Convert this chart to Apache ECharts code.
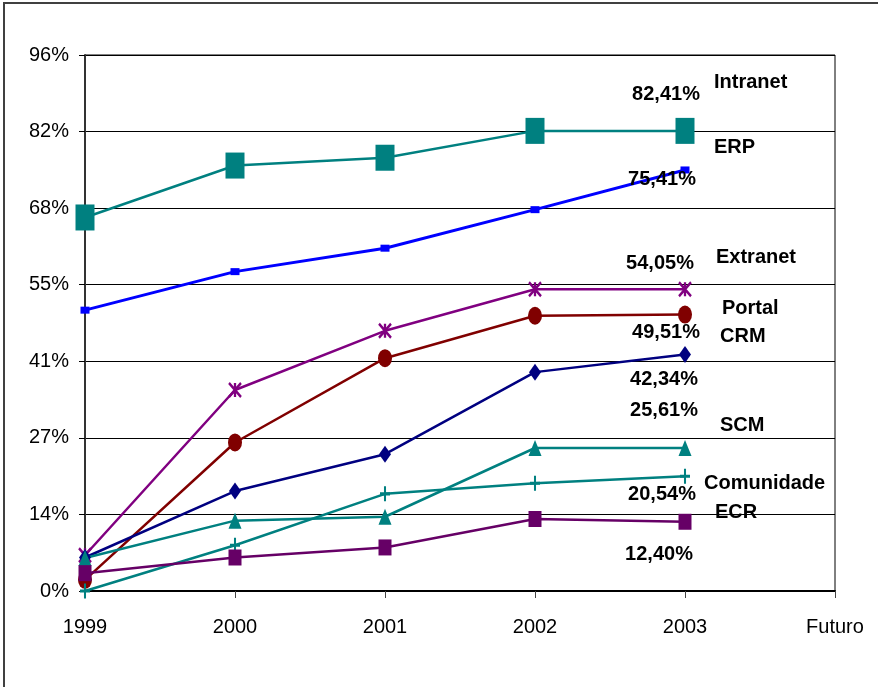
<!DOCTYPE html>
<html>
<head>
<meta charset="utf-8">
<script src="https://cdn.jsdelivr.net/npm/echarts@6/dist/echarts.min.js"></script>
<style>
  html, body { margin: 0; padding: 0; background: #fff; }
  #chart { width: 878px; height: 687px; }
</style>
</head>
<body>
<div id="chart"></div>
<script>
// Adoption by year of each technology (percent of companies)
const categories = ['1999', '2000', '2001', '2002', '2003', 'Futuro'];
const yTickLabels = ['0%', '14%', '27%', '41%', '55%', '68%', '82%', '96%'];

const intranet   = [66.9, 76.2, 77.6, 82.41, 82.41];
const erp        = [50.3, 57.2, 61.4, 68.3, 75.41];
const extranet   = [6.4, 36.0, 46.6, 54.05, 54.05];
const portal     = [2.0, 26.6, 41.7, 49.3, 49.51];
const crm        = [6.0, 17.9, 24.5, 39.2, 42.34];
const scm        = [5.9, 12.6, 13.3, 25.61, 25.61];
const comunidade = [0.0, 8.2, 17.4, 19.3, 20.54];
const ecr        = [3.2, 6.0, 7.8, 12.9, 12.40];

const seriesNames = ['Intranet', 'ERP', 'Extranet', 'Portal', 'CRM', 'SCM', 'Comunidade', 'ECR'];

const AXIS_MAX = 96;
const STEP = AXIS_MAX / 7;

const ASTERISK = 'path://M0,0L10,12M10,0L0,12M5,0L5,12';
const PLUS = 'path://M5,0L5,12M0,6L10,6';

// Per-series look: colour, marker, and where the final value label sits
const looks = [
  { data: intranet,   color: '#008080', width: 2.5, symbol: 'rect',    size: [19, 26], stroke: false, off: [-19, -36] },
  { data: erp,        color: '#0000ff', width: 3,   symbol: 'rect',    size: [9, 7],   stroke: false, off: [-23, 10] },
  { data: extranet,   color: '#800080', width: 2.5, symbol: ASTERISK,  size: [12, 14], stroke: true,  off: [-25, -26] },
  { data: portal,     color: '#800000', width: 2.5, symbol: 'circle',  size: [14, 18], stroke: false, off: [-19, 18] },
  { data: crm,        color: '#000080', width: 2.5, symbol: 'diamond', size: [12, 17], stroke: false, off: [-21, 25] },
  { data: scm,        color: '#008080', width: 2.5, symbol: 'triangle',size: [13, 16], stroke: false, off: [-21, -38] },
  { data: comunidade, color: '#008080', width: 2.5, symbol: PLUS,      size: [10, 15], stroke: true,  off: [-23, 18] },
  { data: ecr,        color: '#660066', width: 2.5, symbol: 'rect',    size: [13, 16], stroke: false, off: [-26, 33] }
];

// Name tags placed to the right of the last year
const nameSpots = [
  [714, 82], [714, 147], [716, 257], [722, 308], [720, 336], [720, 425], [704, 483], [715, 512]
];

function pct(v) {
  return v.toFixed(2).replace('.', ',') + '%';
}

const series = looks.map(function (s, i) {
  const last = s.data.length - 1;
  return {
    name: seriesNames[i],
    type: 'line',
    data: s.data.map(function (v, j) {
      if (j !== last) return v;
      return {
        value: v,
        label: {
          show: true,
          position: 'inside',
          offset: s.off,
          formatter: function (p) { return pct(p.value); },
          fontFamily: 'Liberation Sans, Arial, sans-serif',
          fontWeight: 'bold',
          fontSize: 20,
          color: '#000'
        }
      };
    }),
    symbol: s.symbol,
    symbolSize: s.size,
    showAllSymbol: true,
    lineStyle: { color: s.color, width: s.width },
    itemStyle: s.stroke
      ? { color: s.color, borderColor: s.color, borderWidth: 2.5 }
      : { color: s.color, borderWidth: 0 },
    emphasis: { disabled: true },
    z: 3
  };
});

const graphics = [
  {
    type: 'rect',
    shape: { x: 4, y: 3, width: 940, height: 740 },
    style: { fill: 'none', stroke: '#404040', lineWidth: 2 },
    silent: true
  }
].concat(seriesNames.map(function (n, i) {
  return {
    type: 'text',
    x: nameSpots[i][0],
    y: nameSpots[i][1],
    style: {
      text: n,
      fill: '#000',
      font: 'bold 20px "Liberation Sans", Arial, sans-serif',
      textVerticalAlign: 'middle',
      textAlign: 'left'
    },
    z: 10,
    silent: true
  };
}));

const chart = echarts.init(document.getElementById('chart'), null, { renderer: 'canvas' });
chart.setOption({
  animation: false,
  backgroundColor: '#fff',
  grid: {
    left: 85, right: 43, top: 55, bottom: 96,
    show: true, borderColor: '#000', borderWidth: 1, backgroundColor: 'transparent'
  },
  xAxis: {
    type: 'category',
    data: categories,
    boundaryGap: false,
    axisLine: { lineStyle: { color: '#000', width: 2 } },
    axisTick: { show: true, alignWithLabel: true, length: 7, lineStyle: { color: '#444' } },
    axisLabel: {
      margin: 26,
      color: '#000',
      fontFamily: 'Liberation Sans, Arial, sans-serif',
      fontSize: 20,
      interval: 0
    },
    splitLine: { show: false }
  },
  yAxis: {
    type: 'value',
    min: 0,
    max: AXIS_MAX,
    interval: STEP,
    axisLine: { show: true, lineStyle: { color: '#333', width: 2 } },
    axisTick: { show: true, length: 6, lineStyle: { color: '#000' } },
    axisLabel: {
      margin: 16,
      color: '#000',
      fontFamily: 'Liberation Sans, Arial, sans-serif',
      fontSize: 20,
      formatter: function (v) { return yTickLabels[Math.round(v / STEP)]; }
    },
    splitLine: { show: true, lineStyle: { color: '#000', width: 1 } }
  },
  graphic: graphics,
  series: series
});
</script>
</body>
</html>
